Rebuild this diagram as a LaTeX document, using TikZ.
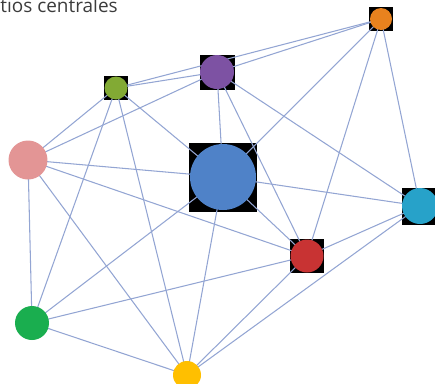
\documentclass[tikz,border=0pt]{standalone}
\usepackage{fontspec}
\setmainfont{Open Sans}
\definecolor{linkblue}{HTML}{93A5D3}
\definecolor{titlegray}{HTML}{3C3C3C}
\definecolor{actorange}{HTML}{E8821E}
\definecolor{actpurple}{HTML}{7D52A3}
\definecolor{actolive}{HTML}{82AA34}
\definecolor{actpink}{HTML}{E39595}
\definecolor{actblue}{HTML}{4F82C8}
\definecolor{actcyan}{HTML}{27A2C9}
\definecolor{actred}{HTML}{C83333}
\definecolor{actgreen}{HTML}{1AAE4F}
\definecolor{actyellow}{HTML}{FFBF00}
\begin{document}
\begin{tikzpicture}[x=0.02cm,y=-0.02cm,
    hub/.style={fill=black, minimum size=#1, inner sep=0pt},
    actor/.style={circle, minimum size=#1, inner sep=0pt},
    link/.style={draw=linkblue, line width=0.6pt}]
  \useasboundingbox (0,0) rectangle (435,383);
  \clip (0,0) rectangle (435,383);
  % centres of the actors
  \coordinate (O) at (381,19);
  \coordinate (P) at (217,72);
  \coordinate (G) at (116,88);
  \coordinate (K) at (28,160);
  \coordinate (B) at (223,177);
  \coordinate (C) at (420,206);
  \coordinate (R) at (307,256);
  \coordinate (N) at (32,323);
  \coordinate (Y) at (187,375);
  % black squares behind the central actors
  \foreach \n/\s in {O/0.48cm, P/0.70cm, G/0.48cm, B/1.38cm, C/0.74cm, R/0.68cm}
    \node[hub=\s] (sq\n) at (\n) {};
  % ties
  \foreach \a/\b in {O/G, O/P, O/B, O/R, O/C,
                     P/G, P/K, P/B, P/R, P/C,
                     G/K, G/N, G/Y, G/B,
                     K/B, K/R, K/N, K/Y,
                     B/C, B/R, B/N, B/Y,
                     C/R, C/Y, R/N, R/Y, N/Y}
    \draw[link] (\a) -- (\b);
  % actors
  \node[actor=0.44cm, fill=actorange] (nO) at (O) {};
  \node[actor=0.68cm, fill=actpurple] (nP) at (P) {};
  \node[actor=0.46cm, fill=actolive] (nG) at (G) {};
  \node[actor=0.78cm, fill=actpink] (nK) at (K) {};
  \node[actor=1.32cm, fill=actblue] (nB) at (B) {};
  \node[actor=0.72cm, fill=actcyan] (nC) at (C) {};
  \node[actor=0.66cm, fill=actred] (nR) at (R) {};
  \node[actor=0.68cm, fill=actgreen] (nN) at (N) {};
  \node[actor=0.56cm, fill=actyellow] (nY) at (Y) {};
  \node[anchor=base west, inner sep=0pt, text=titlegray, font=\fontsize{10.8}{12}\selectfont] (title) at (0,12) {tios centrales};
\end{tikzpicture}
\end{document}
